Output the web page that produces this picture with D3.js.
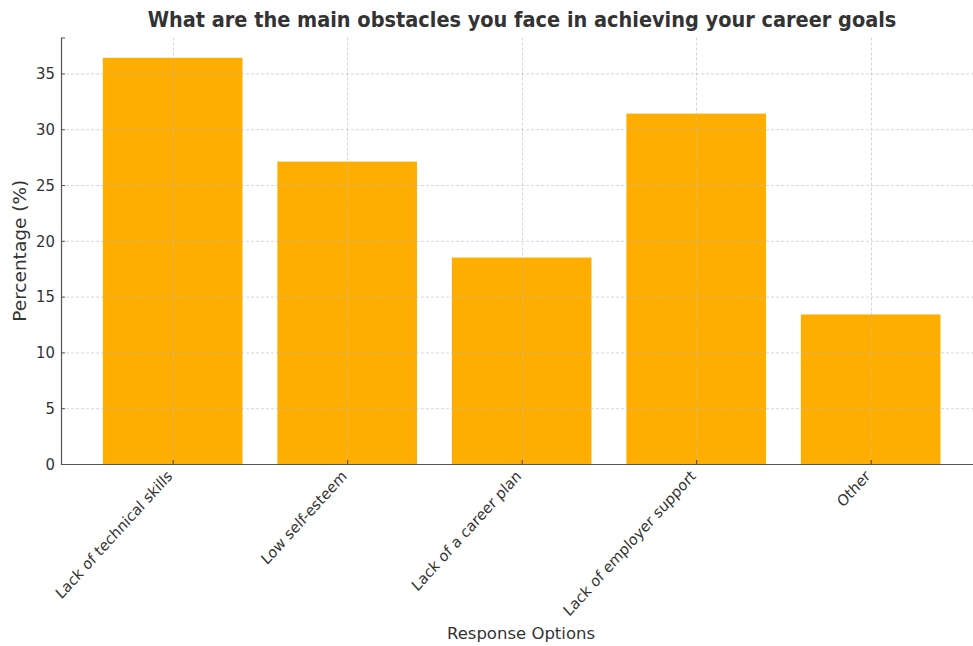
<!DOCTYPE html>
<html>
<head>
<meta charset="utf-8">
<script src="https://cdn.jsdelivr.net/npm/d3@7"></script>
<style>
  body { margin: 0; background: #fff; }
  svg { font-family: "DejaVu Sans", sans-serif; }
</style>
</head>
<body>
<svg id="chart" width="973" height="646"></svg>
<script>
const categories = ["Lack of technical skills", "Low self-esteem", "Lack of a career plan",
                    "Lack of employer support", "Other"];
const values = [36.4, 27.1, 18.5, 31.4, 13.4];
const yTicks = [0, 5, 10, 15, 20, 25, 30, 35];

const width = 973, height = 646;
const plotLeft = 61, plotBottom = 464, plotTop = 37.5;
const svg = d3.select("#chart");

// x as index, matplotlib-like margins (cropped on the right)
const x = d3.scaleLinear().domain([-0.64, 4.64]).range([plotLeft, plotLeft + 5.28 * 174.5]);
const y = d3.scaleLinear().domain([0, 38.22]).range([plotBottom, plotTop]);
const barW = x(0.4) - x(-0.4);

svg.append("text")
  .attr("transform", "translate(522,27) scale(0.9,1)")
  .attr("text-anchor", "middle")
  .attr("font-size", 21.5).attr("font-weight", "bold").attr("fill", "#333")
  .text("What are the main obstacles you face in achieving your career goals");

// bars
svg.selectAll("rect.bar")
  .data(values)
  .join("rect")
  .attr("class", "bar")
  .attr("x", (d, i) => x(i) - barW / 2)
  .attr("y", d => y(d))
  .attr("width", barW)
  .attr("height", d => plotBottom - y(d))
  .attr("fill", "#ffae00");

// grid on top
const grid = svg.append("g").attr("stroke", "#bbb").attr("stroke-opacity", 0.6)
  .attr("stroke-dasharray", "3,2").attr("stroke-width", 1);
grid.selectAll("line.h").data(yTicks.slice(1)).join("line")
  .attr("x1", plotLeft).attr("x2", width)
  .attr("y1", d => y(d) + 0.5).attr("y2", d => y(d) + 0.5);
grid.selectAll("line.v").data(categories).join("line")
  .attr("x1", (d, i) => Math.round(x(i)) + 0.5).attr("x2", (d, i) => Math.round(x(i)) + 0.5)
  .attr("y1", plotTop).attr("y2", plotBottom);

// y axis
const yAxis = svg.append("g")
  .attr("transform", `translate(${plotLeft},0)`)
  .call(d3.axisLeft(y).tickValues(yTicks).tickSize(-4).tickPadding(0));
yAxis.select(".domain").attr("stroke", "#555").attr("stroke-width", 1.2);
yAxis.selectAll(".tick line").attr("stroke", "#555");
yAxis.selectAll("text")
  .attr("font-size", 16.5).attr("fill", "#333").attr("font-family", "DejaVu Sans")
  .attr("x", 0)
  .attr("transform", "translate(-6,0) scale(0.9,1)");

// x axis
const xAxis = svg.append("g")
  .attr("transform", `translate(0,${plotBottom})`)
  .call(d3.axisBottom(x).tickValues(d3.range(categories.length))
        .tickFormat(i => categories[i]).tickSize(-4).tickSizeOuter(0));
xAxis.select(".domain").attr("d", `M${plotLeft},0.5H${width}`)
  .attr("stroke", "#555").attr("stroke-width", 1.2);
xAxis.selectAll(".tick line").attr("stroke", "#444");
xAxis.selectAll("text")
  .attr("font-size", 15.5).attr("fill", "#333").attr("font-family", "DejaVu Sans")
  .attr("text-anchor", "end")
  .attr("dy", null).attr("y", 0)
  .attr("transform", "translate(0,13) scale(0.91,1) rotate(-45)");

// axis labels
svg.append("text")
  .attr("x", 521).attr("y", 639)
  .attr("text-anchor", "middle").attr("font-size", 16.5).attr("fill", "#333")
  .text("Response Options");
svg.append("text")
  .attr("transform", `translate(26,${(plotTop + plotBottom) / 2}) rotate(-90)`)
  .attr("text-anchor", "middle").attr("font-size", 18.5).attr("fill", "#333")
  .text("Percentage (%)");
</script>
</body>
</html>
